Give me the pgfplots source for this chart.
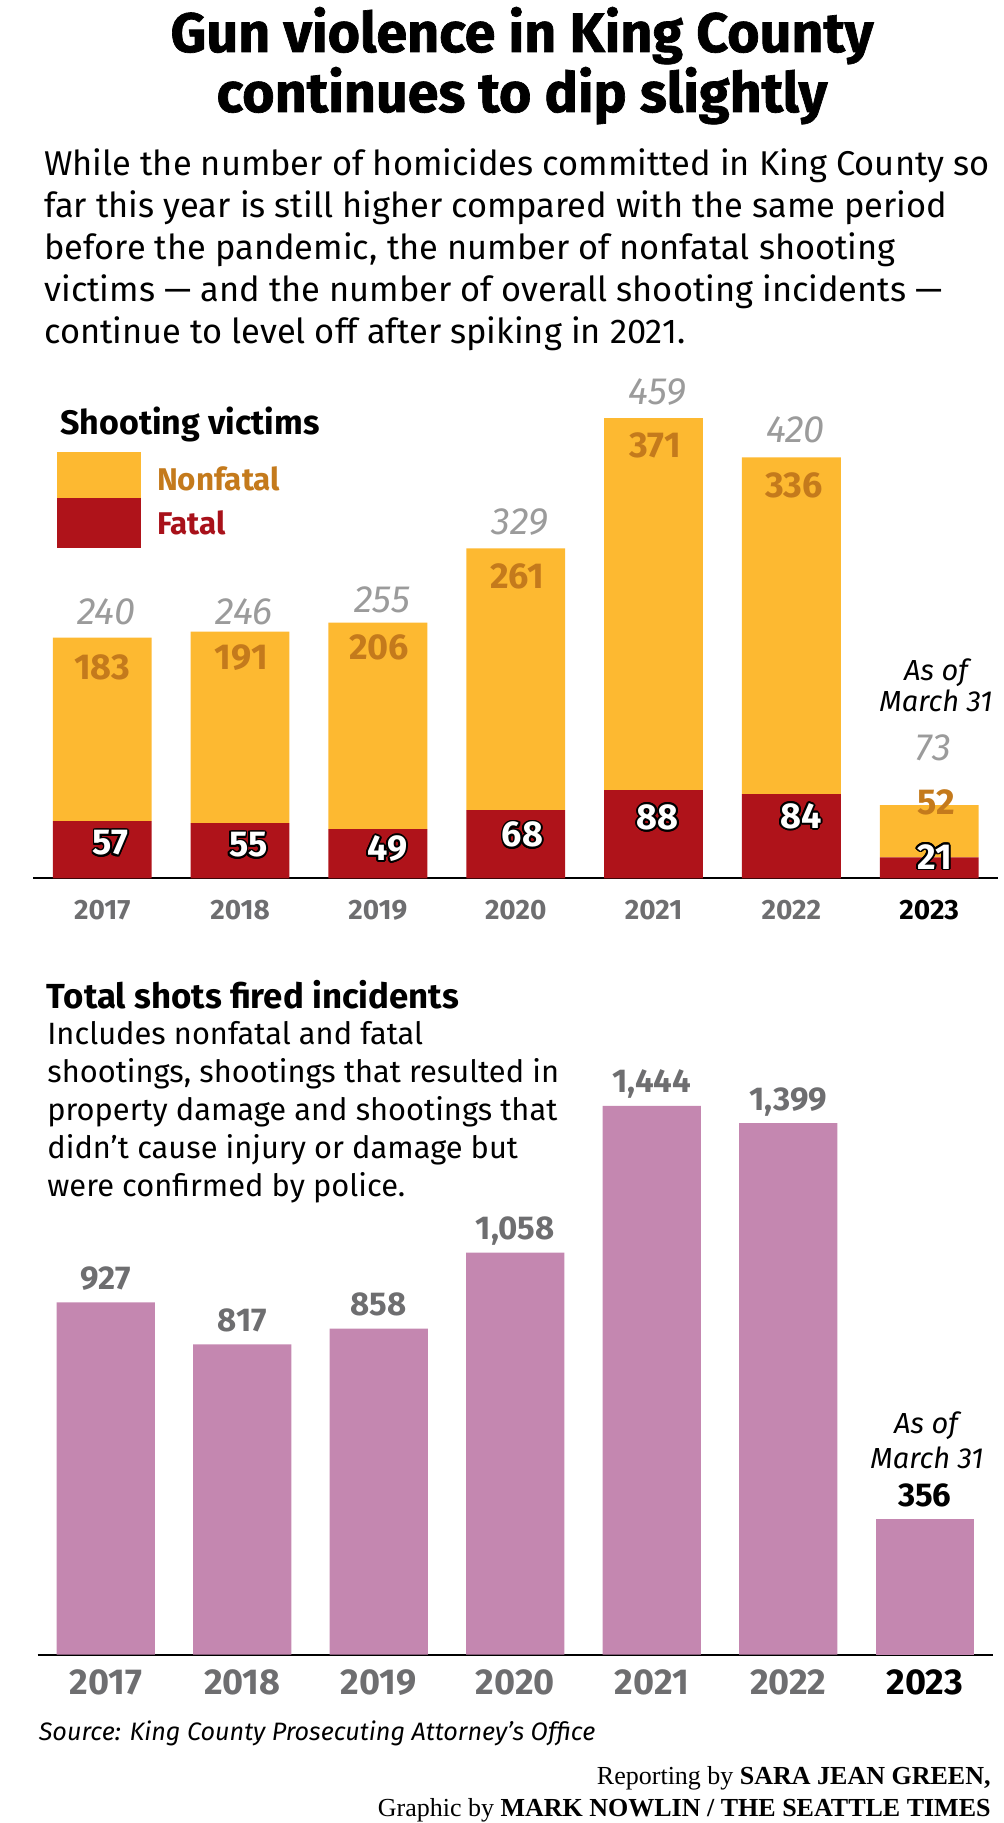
\documentclass[border=0pt]{standalone}
\usepackage{fontspec}
\setmainfont{Fira Sans}
\newfontfamily\titlefont{Fira Sans}[BoldFeatures={FakeBold=1.2}]
\newfontfamily\serif{Liberation Serif}
\usepackage{pgfplots}
\usepackage{pgfplotstable}
\pgfplotsset{compat=1.18}
\usepackage[copies]{contour}
\contourlength{0.9pt}
\definecolor{nfy}{HTML}{FDB931}
\definecolor{fr}{HTML}{AF131A}
\definecolor{nft}{HTML}{C47A1C}
\definecolor{frt}{HTML}{A8111A}
\definecolor{tg}{HTML}{9B9B9B}
\definecolor{pk}{HTML}{C487B0}
\definecolor{dg}{HTML}{6E6E70}

\pgfplotstableread{
x f nf
0 57 183
1 55 191
2 49 206
3 68 261
4 88 371
5 84 336
6 21 52
}\victims

\pgfplotstableread{
x y lab
0.03 265.6 240
1.03 266.0 246
2.03 277.9 255
3.03 355.6 329
4.03 485.4 459
5.03 447.2 420
6.03 129.7 73
}\totlab

\pgfplotstableread{
x y lab
0.00 210.8 183
1.01 220.3 191
2.01 230.4 206
3.01 301.0 261
4.01 432.1 371
5.02 391.5 336
6.05 75.6 52
}\nflab

\pgfplotstableread{
x y lab
0.06 34.2 57
1.06 32.2 55
2.07 28.6 49
3.05 42.6 68
4.03 60.0 88
5.07 61.1 84
6.04 20.7 21
}\flab

\pgfplotsset{
  topgeom/.style={at={(16.65pt,-439.15pt)}, anchor=south west, scale only axis,
    width=482.4pt, height=250.625pt, xmin=-0.5, xmax=6.5, ymin=0, ymax=500},
  botgeom/.style={at={(18.78pt,-827.35pt)}, anchor=south west, scale only axis,
    width=477.75pt, height=304pt, xmin=-0.5, xmax=6.5, ymin=0, ymax=1600},
}

\begin{document}
\begin{tikzpicture}
\begin{scope}[x=0.5pt,y=-0.5pt]
\useasboundingbox (0,0) rectangle (1003,1823);
% title
\node[anchor=base, inner sep=0pt, font=\titlefont\bfseries\fontsize{27.8}{31}\selectfont] at (522,52) {Gun violence in King County};
\node[anchor=base, inner sep=0pt, font=\titlefont\bfseries\fontsize{27.8}{31}\selectfont] at (522,112) {continues to dip slightly};
% intro
\begin{scope}[every node/.style={anchor=base west, inner sep=0pt, font=\fontsize{17.2}{21}\selectfont}]
\node at (44,176) {While the number of homicides committed in King County so};
\node at (44,217.8) {far this year is still higher compared with the same period};
\node at (44,259.6) {before the pandemic, the number of nonfatal shooting};
\node at (44,301.4) {victims — and the number of overall shooting incidents —};
\node at (44,343.2) {continue to level off after spiking in 2021.};
\end{scope}
% legend
\node[anchor=base west, inner sep=0pt, font=\bfseries\fontsize{17}{20}\selectfont] at (60,435) {Shooting victims};
\fill[nfy] (56.7,451.7) rectangle (141,498.3);
\fill[fr] (56.7,498.3) rectangle (141,548.3);
\node[anchor=base west, inner sep=0pt, text=nft, font=\bfseries\fontsize{15.7}{18}\selectfont] at (156.7,491) {Nonfatal};
\node[anchor=base west, inner sep=0pt, text=frt, font=\bfseries\fontsize{15.7}{18}\selectfont] at (156.7,535) {Fatal};
% as of (top)
\node[anchor=base, inner sep=0pt, font=\itshape\fontsize{14.5}{16}\selectfont] at (936,680) {As of};
\node[anchor=base, inner sep=0pt, font=\itshape\fontsize{14.5}{16}\selectfont] at (936,711.7) {March 31};
% second chart heading
\node[anchor=base west, inner sep=0pt, font=\bfseries\fontsize{17.4}{20}\selectfont] at (46.5,1008.3) {Total shots fired incidents};
\begin{scope}[every node/.style={anchor=base west, inner sep=0pt, font=\fontsize{15.4}{19}\selectfont}]
\node at (47,1044) {Includes nonfatal and fatal};
\node at (47,1082) {shootings, shootings that resulted in};
\node at (47,1120) {property damage and shootings that};
\node at (47,1158) {didn’t cause injury or damage but};
\node at (47,1196) {were confirmed by police.};
\end{scope}
\node[anchor=base, inner sep=0pt, font=\itshape\fontsize{14.5}{16}\selectfont] at (926,1433.3) {As of};
\node[anchor=base, inner sep=0pt, font=\itshape\fontsize{14.5}{16}\selectfont] at (927,1468.3) {March 31};
% source & byline
\node[anchor=base west, inner sep=0pt, font=\itshape\fontsize{12.6}{15}\selectfont] at (38.5,1740) {Source: King County Prosecuting Attorney’s Office};
\node[anchor=base east, inner sep=0pt, font=\serif\fontsize{13}{15}\selectfont] at (991,1784) {Reporting by \textbf{SARA JEAN GREEN,}};
\node[anchor=base east, inner sep=0pt, font=\serif\fontsize{13}{15}\selectfont] at (991,1816.7) {Graphic by \textbf{MARK NOWLIN / THE SEATTLE TIMES}};
\end{scope}

% ---------- top chart: bars
\begin{axis}[topgeom, ybar stacked, bar width=0.717, hide y axis,
  axis x line*=bottom, x axis line style={line width=1pt,-},
  xtick={0,...,6}, major tick length=0pt,
  xticklabels={\textcolor{dg}{2017},\textcolor{dg}{2018},\textcolor{dg}{2019},\textcolor{dg}{2020},\textcolor{dg}{2021},\textcolor{dg}{2022},\textcolor{black}{2023}},
  xticklabel style={font=\bfseries\fontsize{14}{14}\selectfont, anchor=center, inner sep=0pt, yshift=-15.85pt},
  clip=false]
\addplot[fill=fr, draw=none] table[x=x,y=f]{\victims};
\addplot[fill=nfy, draw=none] table[x=x,y=nf]{\victims};
\end{axis}
% ---------- top chart: labels
\begin{axis}[topgeom, hide axis, clip=false]
\addplot[draw=none, nodes near coords={\pgfplotspointmeta}, point meta=explicit symbolic,
  nodes near coords style={anchor=center, inner sep=0pt, text=tg, font=\itshape\fontsize{19}{19}\selectfont}]
  table[x=x,y=y,meta=lab]{\totlab};
\addplot[draw=none, nodes near coords={\pgfplotspointmeta}, point meta=explicit symbolic,
  nodes near coords style={anchor=center, inner sep=0pt, text=nft, font=\bfseries\fontsize{18}{18}\selectfont}]
  table[x=x,y=y,meta=lab]{\nflab};
\addplot[draw=none, nodes near coords={\contour{black}{\pgfplotspointmeta}}, point meta=explicit symbolic,
  nodes near coords style={anchor=center, inner sep=0pt, text=white, font=\bfseries\fontsize{18}{18}\selectfont}]
  table[x=x,y=y,meta=lab]{\flab};
\end{axis}

% ---------- bottom chart
\begin{axis}[botgeom, ybar, bar width=0.72, hide y axis,
  axis x line*=bottom, x axis line style={line width=1pt,-},
  xtick={0,...,6}, major tick length=0pt,
  xticklabels={\textcolor{dg}{2017},\textcolor{dg}{2018},\textcolor{dg}{2019},\textcolor{dg}{2020},\textcolor{dg}{2021},\textcolor{dg}{2022},\textcolor{black}{2023}},
  xticklabel style={font=\bfseries\fontsize{18}{18}\selectfont, anchor=center, inner sep=0pt, yshift=-13.85pt},
  /pgf/number format/assume math mode=true,
  /pgf/number format/1000 sep={,},
  clip=false]
\addplot[fill=pk, draw=none, bar shift=0pt, nodes near coords,
  nodes near coords style={anchor=base, inner sep=0pt, yshift=6.5pt, text=dg, font=\bfseries\fontsize{16.5}{16.5}\selectfont}]
  coordinates {(0,927) (1,817) (2,858) (3,1058) (4,1444) (5,1399)};
\addplot[fill=pk, draw=none, bar shift=0pt, nodes near coords,
  nodes near coords style={anchor=base, inner sep=0pt, yshift=6.5pt, text=black, font=\bfseries\fontsize{16.5}{16.5}\selectfont}]
  coordinates {(6,356)};
\end{axis}
\end{tikzpicture}
\end{document}
